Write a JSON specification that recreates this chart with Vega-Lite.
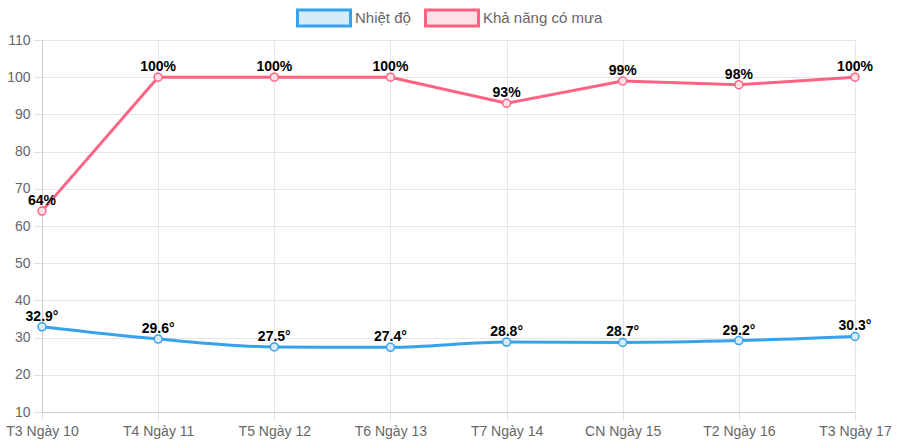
{
  "$schema": "https://vega.github.io/schema/vega-lite/v6.json",
  "width": 813,
  "height": 372,
  "autosize": "none",
  "padding": {"left": 42, "top": 40, "right": 43, "bottom": 36},
  "background": "white",
  "config": {
    "view": {"stroke": null},
    "font": "Liberation Sans",
    "legend": {
      "orient": "none",
      "legendX": 254,
      "legendY": -50,
      "direction": "horizontal",
      "title": null,
      "symbolType": "M-1,-0.3H1V0.3H-1Z",
      "symbolSize": 2809,
      "symbolStrokeWidth": 3,
      "labelFont": "Liberation Sans",
      "labelFontSize": 15,
      "labelColor": "#666666",
      "labelOffset": 3,
      "columnPadding": 8
    }
  },
  "data": {
    "values": [
      {"day": "T3 Ngày 10", "series": "Nhiệt độ", "value": 32.9, "label": "32.9°"},
      {"day": "T4 Ngày 11", "series": "Nhiệt độ", "value": 29.6, "label": "29.6°"},
      {"day": "T5 Ngày 12", "series": "Nhiệt độ", "value": 27.5, "label": "27.5°"},
      {"day": "T6 Ngày 13", "series": "Nhiệt độ", "value": 27.4, "label": "27.4°"},
      {"day": "T7 Ngày 14", "series": "Nhiệt độ", "value": 28.8, "label": "28.8°"},
      {"day": "CN Ngày 15", "series": "Nhiệt độ", "value": 28.7, "label": "28.7°"},
      {"day": "T2 Ngày 16", "series": "Nhiệt độ", "value": 29.2, "label": "29.2°"},
      {"day": "T3 Ngày 17", "series": "Nhiệt độ", "value": 30.3, "label": "30.3°"},
      {"day": "T3 Ngày 10", "series": "Khả năng có mưa", "value": 64, "label": "64%"},
      {"day": "T4 Ngày 11", "series": "Khả năng có mưa", "value": 100, "label": "100%"},
      {"day": "T5 Ngày 12", "series": "Khả năng có mưa", "value": 100, "label": "100%"},
      {"day": "T6 Ngày 13", "series": "Khả năng có mưa", "value": 100, "label": "100%"},
      {"day": "T7 Ngày 14", "series": "Khả năng có mưa", "value": 93, "label": "93%"},
      {"day": "CN Ngày 15", "series": "Khả năng có mưa", "value": 99, "label": "99%"},
      {"day": "T2 Ngày 16", "series": "Khả năng có mưa", "value": 98, "label": "98%"},
      {"day": "T3 Ngày 17", "series": "Khả năng có mưa", "value": 100, "label": "100%"}
    ]
  },
  "encoding": {
    "x": {
      "field": "day",
      "type": "ordinal",
      "sort": null,
      "scale": {"type": "point", "padding": 0},
      "axis": {
        "title": null,
        "labelAngle": 0,
        "labelFontSize": 14,
        "labelColor": "#666666",
        "labelPadding": 4,
        "tickSize": 8,
        "tickColor": "#e0e0e0",
        "domainColor": "#cccccc",
        "grid": true,
        "gridColor": "#e6e6e6",
        "labelOverlap": false
      }
    },
    "y": {
      "field": "value",
      "type": "quantitative",
      "scale": {"domain": [10, 110], "nice": false, "zero": false},
      "axis": {
        "title": null,
        "values": [10, 20, 30, 40, 50, 60, 70, 80, 90, 100, 110],
        "labelFontSize": 14,
        "labelColor": "#666666",
        "labelPadding": 4,
        "tickSize": 8,
        "tickColor": "#e0e0e0",
        "domainColor": "#cccccc",
        "grid": true,
        "gridColor": "#e6e6e6"
      }
    }
  },
  "layer": [
    {
      "transform": [{"filter": "datum.series == 'Nhiệt độ'"}],
      "mark": {"type": "line", "interpolate": "monotone", "strokeWidth": 3},
      "encoding": {
        "stroke": {
          "field": "series",
          "type": "nominal",
          "scale": {"domain": ["Nhiệt độ", "Khả năng có mưa"], "range": ["#36a2eb", "#ff6384"]}
        }
      }
    },
    {
      "transform": [{"filter": "datum.series == 'Khả năng có mưa'"}],
      "mark": {"type": "line", "strokeWidth": 3},
      "encoding": {
        "stroke": {
          "field": "series",
          "type": "nominal",
          "scale": {"domain": ["Nhiệt độ", "Khả năng có mưa"], "range": ["#36a2eb", "#ff6384"]}
        }
      }
    },
    {
      "mark": {"type": "point", "filled": false, "size": 64, "strokeWidth": 1.5, "opacity": 1},
      "encoding": {
        "stroke": {
          "field": "series",
          "type": "nominal",
          "scale": {"domain": ["Nhiệt độ", "Khả năng có mưa"], "range": ["#36a2eb", "#ff6384"]}
        },
        "fill": {
          "field": "series",
          "type": "nominal",
          "scale": {"domain": ["Nhiệt độ", "Khả năng có mưa"], "range": ["#d7ecfb", "#ffe0e6"]}
        }
      }
    },
    {
      "mark": {"type": "text", "fontWeight": "bold", "fontSize": 14, "color": "#000000", "baseline": "bottom", "dy": -3},
      "encoding": {
        "text": {"field": "label"}
      }
    }
  ]
}
